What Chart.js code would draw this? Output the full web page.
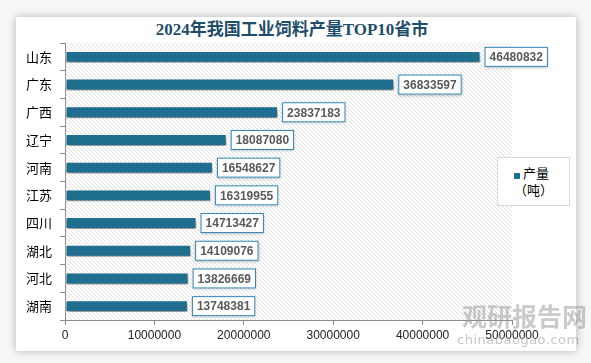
<!DOCTYPE html>
<html>
<head>
<meta charset="utf-8">
<script src="https://cdn.jsdelivr.net/npm/chart.js@4"></script>
<style>
  html, body { margin: 0; padding: 0; background: #fff; }
  #wrap { position: relative; width: 591px; height: 363px; overflow: hidden; background: #f7f7f7; }
  #card { position: absolute; left: 16px; top: 17px; width: 560px; height: 334px; background: #fff;
          box-shadow: 0 0 9px rgba(0,0,0,0.28); }
  #title { position: absolute; left: 0; top: 15px; width: 584px; text-align: center;
           font: bold 17px "Liberation Serif", "Noto Sans CJK SC", serif; color: #1f4e6b; }
  #legend { position: absolute; left: 497px; top: 157px; width: 71px; height: 47px;
            border: 1px solid #d9d9d9; background: #fff;
            font: 13px "Noto Sans CJK SC", sans-serif; color: #000; }
  #legend .mk { position: absolute; left: 16px; top: 15px; width: 6px; height: 6px; background: #1f6e8f; }
  #legend .t1 { position: absolute; left: 25px; top: 7px; line-height: 16px; }
  #legend .t2 { position: absolute; left: 16px; top: 24px; line-height: 16px; }
  #wm { position: absolute; left: 462px; top: 300px; color: rgba(150,150,150,0.5);
        font: bold 25px "Noto Sans CJK SC", sans-serif; line-height: 30px; }
  #wm2 { position: absolute; left: 457px; top: 332px; color: rgba(150,150,150,0.55);
         font: 13px "DejaVu Sans", sans-serif; letter-spacing: 0.5px; }
  canvas { position: absolute; left: 0; top: 0; }
</style>
</head>
<body>
<div id="wrap">
  <div id="card"></div>
  <div id="title">2024年我国工业饲料产量TOP10省市</div>
  <canvas id="chartz" width="591" height="363"></canvas>
  <div id="legend"><div class="mk"></div><div class="t1">产量</div><div class="t2">（吨）</div></div>
  <div id="wm">观研报告网</div>
  <div id="wm2">chinabaogao.com</div>
</div>
<script>
// provinces, top to bottom
const provinces = ['山东', '广东', '广西', '辽宁', '河南', '江苏', '四川', '湖北', '河北', '湖南'];
// output in tonnes
const output = [46480832, 36833597, 23837183, 18087080, 16548627, 16319955, 14713427, 14109076, 13826669, 13748381];
const seriesName = '产量（吨）';
const xTicks = [0, 10000000, 20000000, 30000000, 40000000, 50000000];

var ctx = document.getElementById('chartz').getContext('2d');

// hatched plot background
function hatch() {
    var c = document.createElement('canvas');
    c.width = 4; c.height = 4;
    var g = c.getContext('2d');
    g.fillStyle = '#ffffff';
    g.fillRect(0, 0, 4, 4);
    g.strokeStyle = '#e0e0e0';
    g.lineWidth = 1;
    g.beginPath();
    g.moveTo(0, 0); g.lineTo(4, 4);
    g.moveTo(-1, 3); g.lineTo(1, 5);
    g.moveTo(3, -1); g.lineTo(5, 1);
    g.stroke();
    return ctx.createPattern(c, 'repeat');
}

var bgPlugin = {
    id: 'bg',
    beforeDraw: function (chart) {
        var a = chart.chartArea, c = chart.ctx;
        c.save();
        c.fillStyle = hatch();
        c.fillRect(a.left, a.top, a.right - a.left, a.bottom - a.top);
        c.restore();
    },
    beforeDatasetsDraw: function (chart) {
        var c = chart.ctx;
        c.save();
        c.shadowColor = 'rgba(0,0,0,0.45)';
        c.shadowBlur = 4;
        c.shadowOffsetX = 1;
        c.shadowOffsetY = 3;
    },
    afterDatasetsDraw: function (chart) {
        chart.ctx.restore();
    }
};

// boxed value labels right of each bar
var labelPlugin = {
    id: 'boxLabels',
    afterDatasetsDraw: function (chart) {
        var c = chart.ctx;
        var meta = chart.getDatasetMeta(0);
        c.save();
        c.font = 'bold 12px "Liberation Sans", Arial, sans-serif';
        meta.data.forEach(function (bar, i) {
            var txt = String(output[i]);
            var w = c.measureText(txt).width + 10;
            var h = 20;
            var x = bar.x + 4, y = bar.y - h / 2;
            c.shadowColor = 'rgba(0,0,0,0.3)';
            c.shadowBlur = 3;
            c.shadowOffsetY = 1;
            c.fillStyle = '#ffffff';
            c.fillRect(x, y, w, h);
            c.shadowColor = 'transparent';
            c.strokeStyle = '#2f86b3';
            c.lineWidth = 1;
            c.strokeRect(x + 0.5, y + 0.5, w - 1, h - 1);
            c.fillStyle = '#595959';
            c.textBaseline = 'middle';
            c.fillText(txt, x + 5, bar.y + 1);
        });
        c.restore();
    }
};

var chart = {
    type: 'bar',
    data: {
        labels: provinces,
        datasets: [{
            label: seriesName,
            data: output,
            backgroundColor: '#1f6e8f',
            borderColor: '#ffffff',
            borderWidth: 1,
            borderSkipped: false,
            categoryPercentage: 1,
            barPercentage: 0.43
        }]
    },
    options: {
        indexAxis: 'y',
        responsive: false,
        animation: false,
        layout: { padding: { left: 0, right: 79, top: 43, bottom: 13 } },
        plugins: { legend: { display: false }, tooltip: { enabled: false } },
        scales: {
            x: {
                min: 0,
                max: 50000000,
                afterBuildTicks: function (s) { s.ticks = xTicks.map(function (v) { return { value: v }; }); },
                afterFit: function (s) { s.height = 30; },
                grid: { drawOnChartArea: false, tickLength: 5, color: '#8c8c8c' },
                border: { color: '#8c8c8c' },
                ticks: { color: '#222', padding: 3, maxRotation: 0, autoSkip: false,
                         callback: function (v) { return String(v); },
                         font: { family: '"Liberation Sans", Arial, sans-serif', size: 12 } }
            },
            y: {
                afterFit: function (s) { s.width = 65; },
                grid: { offset: true, drawOnChartArea: false, tickLength: 5, color: '#8c8c8c' },
                border: { color: '#8c8c8c' },
                ticks: { color: '#000', padding: 8,
                         font: { family: '"Noto Sans CJK SC", sans-serif', size: 13 } }
            }
        }
    },
    plugins: [bgPlugin, labelPlugin]
};
var statChart = new Chart(ctx, chart);
</script>
</body>
</html>
